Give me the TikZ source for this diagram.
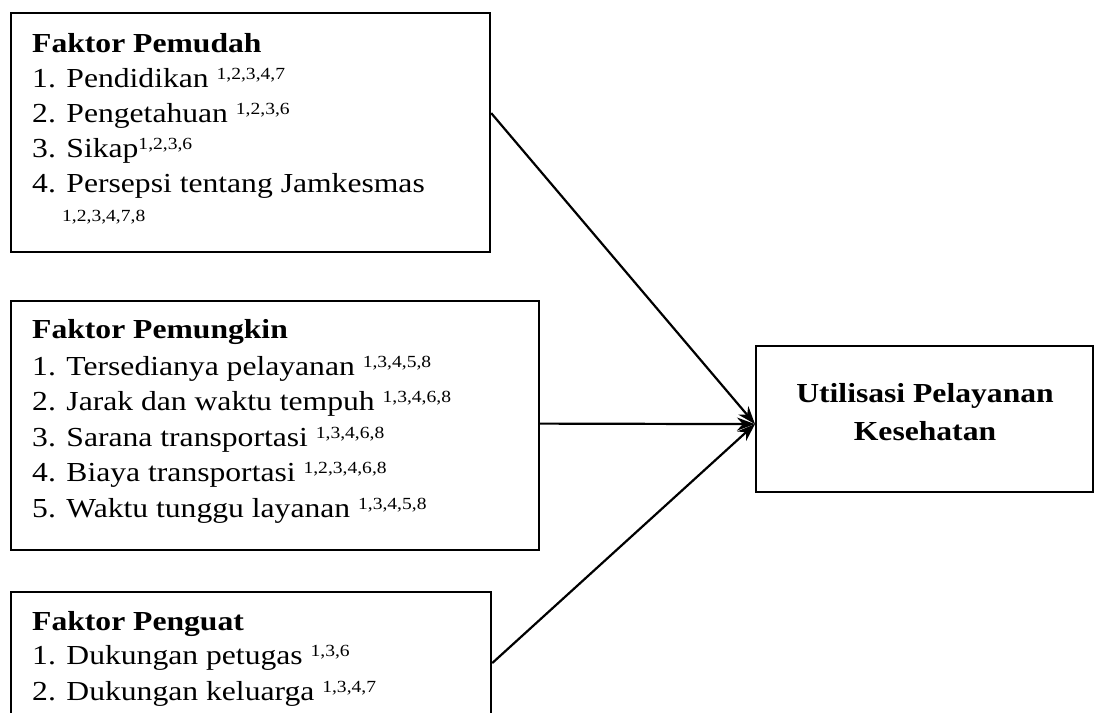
\documentclass[tikz,border=0pt]{standalone}
\usepackage{fontspec}
\setmainfont{Liberation Serif}[FakeStretch=1.15]
\usetikzlibrary{arrows.meta}
\newcommand\sps[1]{\raisebox{8pt}{\fontsize{17}{17}\selectfont #1}}
\tikzset{
  box/.style={draw, line width=2.2pt, anchor=north west, inner sep=0pt},
  txt/.style={anchor=base west, inner sep=0pt, font=\fontsize{27.5}{35}\selectfont},
  ttl/.style={anchor=base west, inner sep=0pt, font=\fontsize{27.5}{35}\selectfont\bfseries},
  ctr/.style={anchor=base, inner sep=0pt, font=\fontsize{27.5}{35}\selectfont\bfseries},
  conn/.style={line width=2.2pt, -{Stealth[length=18pt,width=13pt]}}
}
\begin{document}
\begin{tikzpicture}[x=1pt,y=-1pt]
\useasboundingbox (0,0) rectangle (1094,712);
\clip (0,0) rectangle (1094,712);
\fill[white] (0,0) rectangle (1094,712);
% boxes
\node[box, minimum width=479pt, minimum height=239pt] (b1) at (10,12) {};
\node[box, minimum width=528pt, minimum height=249pt] (b2) at (10,300) {};
\node[box, minimum width=480pt, minimum height=142pt] (b3) at (10,591) {};
\node[box, minimum width=337pt, minimum height=146pt] (b4) at (755,345) {};
% box 1 text
\node[ttl] (t11) at (32,52) {Faktor Pemudah};
\node[txt] (t12) at (32,87) {1. Pendidikan \sps{1,2,3,4,7}};
\node[txt] (t13) at (32,122) {2. Pengetahuan \sps{1,2,3,6}};
\node[txt] (t14) at (32,157) {3. Sikap\sps{1,2,3,6}};
\node[txt] (t15) at (32,192) {4. Persepsi tentang Jamkesmas};
\node[anchor=base west, inner sep=0pt, font=\fontsize{17}{17}\selectfont] (t16) at (62,221) {1,2,3,4,7,8};
% box 2 text
\node[ttl] (t21) at (32,338) {Faktor Pemungkin};
\node[txt] (t22) at (32,375) {1. Tersedianya pelayanan \sps{1,3,4,5,8}};
\node[txt] (t23) at (32,410) {2. Jarak dan waktu tempuh \sps{1,3,4,6,8}};
\node[txt] (t24) at (32,446) {3. Sarana transportasi \sps{1,3,4,6,8}};
\node[txt] (t25) at (32,481) {4. Biaya transportasi \sps{1,2,3,4,6,8}};
\node[txt] (t26) at (32,517) {5. Waktu tunggu layanan \sps{1,3,4,5,8}};
% box 3 text
\node[ttl] (t31) at (32,630) {Faktor Penguat};
\node[txt] (t32) at (32,664) {1. Dukungan petugas \sps{1,3,6}};
\node[txt] (t33) at (32,700) {2. Dukungan keluarga \sps{1,3,4,7}};
% box 4 text
\node[ctr] (t41) at (925,402) {Utilisasi Pelayanan};
\node[ctr] (t42) at (925,440) {Kesehatan};
% connectors
\coordinate (tip) at ([yshift=-5pt]b4.west);
\draw[conn] ([yshift=19.5pt]b1.east) -- (tip);
\draw[conn] ([yshift=2pt]b2.east) -- (tip);
\draw[conn] (b3.east) -- (tip);
\end{tikzpicture}
\end{document}
